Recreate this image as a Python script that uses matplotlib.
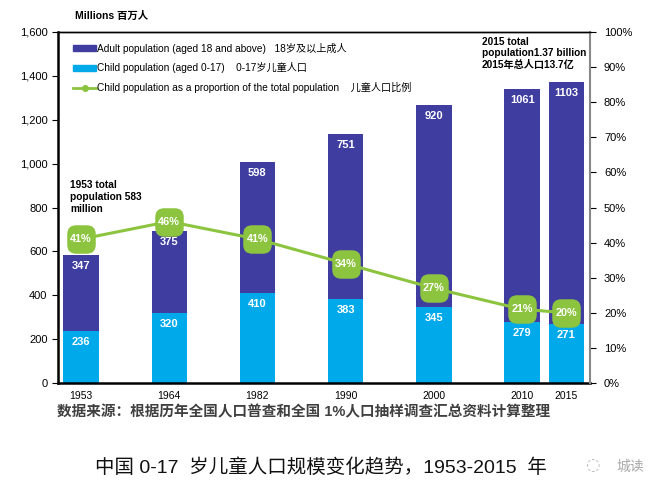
import matplotlib.pyplot as plt
import matplotlib.patches as mpatches
import matplotlib.lines as mlines
from matplotlib.ticker import FuncFormatter

plt.rcParams['font.family'] = ['Liberation Sans', 'Noto Sans CJK SC', 'DejaVu Sans']
plt.rcParams['axes.unicode_minus'] = False

# 数据
years = ['1953', '1964', '1982', '1990', '2000', '2010', '2015']
child_pop = [236, 320, 410, 383, 345, 279, 271]
adult_pop = [347, 375, 598, 751, 920, 1061, 1103]
child_share = [41, 46, 41, 34, 27, 21, 20]
xpos = [0, 1, 2, 3, 4, 5, 5.5]

adult_color = '#3f3da0'
child_color = '#00aaea'
green = '#8cc43f'

fig = plt.figure(figsize=(6.61, 4.96), dpi=100)
ax = fig.add_axes([0.0877, 0.2278, 0.805, 0.7077])

ax.bar(xpos, child_pop, width=0.4, color=child_color, zorder=2)
ax.bar(xpos, adult_pop, width=0.4, bottom=child_pop, color=adult_color, zorder=2)

# 柱内数值
for x, c, a in zip(xpos, child_pop, adult_pop):
    ax.text(x, c - 50, f'{c}', ha='center', va='center', color='white',
            fontsize=8, fontweight='bold', zorder=3)
    ax.text(x, c + a - 50, f'{a}', ha='center', va='center', color='white',
            fontsize=8, fontweight='bold', zorder=3)

ax.set_xlim(-0.26, 5.77)
ax.set_ylim(0, 1600)
ax.set_yticks(range(0, 1601, 200))
ax.yaxis.set_major_formatter(FuncFormatter(lambda v, p: f'{int(v):,}'))
ax.set_xticks(xpos)
ax.set_xticklabels(years)
ax.tick_params(axis='x', length=0, labelsize=7.5, pad=6)
ax.tick_params(axis='y', length=4, labelsize=8, direction='out')
for s in ['left', 'bottom']:
    ax.spines[s].set_linewidth(1.8)
ax.spines['top'].set_linewidth(1.0)
ax.spines['right'].set_visible(False)

# 圆角方块标记
rbox = mpatches.FancyBboxPatch((-0.5, -0.5), 1, 1,
                               boxstyle='round,pad=0,rounding_size=0.3').get_path()

# 右轴：儿童人口比例
ax2 = ax.twinx()
ax2.plot(xpos, child_share, color=green, linewidth=2.2, zorder=4)
ax2.plot(xpos, child_share, linestyle='none', marker=rbox, markersize=19.5,
         markerfacecolor=green, markeredgecolor=green, zorder=5)
for x, p in zip(xpos, child_share):
    ax2.text(x, p, f'{p}%', ha='center', va='center', color='white',
             fontsize=7.8, fontweight='bold', zorder=6)
ax2.set_ylim(0, 100)
ax2.set_yticks(range(0, 101, 10))
ax2.yaxis.set_major_formatter(FuncFormatter(lambda v, p: f'{int(v)}%'))
ax2.tick_params(axis='y', length=4, labelsize=8, direction='out', pad=6)
ax2.spines['right'].set_color('#888888')
ax2.spines['right'].set_linewidth(1.5)
ax2.spines['left'].set_visible(False)
ax2.spines['bottom'].set_visible(False)
ax2.spines['top'].set_linewidth(1.0)

# 图例
h1 = mpatches.Patch(color=adult_color)
h2 = mpatches.Patch(color=child_color)
h3 = mlines.Line2D([], [], color=green, linewidth=2, marker='o', markersize=4)
ax2.legend([h1, h2, h3],
           ['Adult population (aged 18 and above)   18岁及以上成人',
            'Child population (aged 0-17)    0-17岁儿童人口',
            'Child population as a proportion of the total population    儿童人口比例'],
           loc='upper left', bbox_to_anchor=(0.012, 0.995), frameon=False,
           fontsize=7.3, handlelength=2.2, handleheight=0.5, handletextpad=0.1,
           labelspacing=0.85, borderaxespad=0.5)

# 注释
ax.text(0.023, 0.578, '1953 total\npopulation 583\nmillion', transform=ax.transAxes,
        fontsize=7.3, fontweight='bold', va='top', ha='left', linespacing=1.25)
ax.text(0.797, 0.987, '2015 total\npopulation1.37 billion\n2015年总人口13.7亿',
        transform=ax.transAxes, fontsize=7.3, fontweight='bold', va='top', ha='left',
        linespacing=1.2)

fig.text(0.113, 0.968, 'Millions 百万人', fontsize=7.5, fontweight='bold', va='center')

fig.text(0.086, 0.169, '数据来源：根据历年全国人口普查和全国 1%人口抽样调查汇总资料计算整理',
         fontsize=10.5, color='#404040', fontweight='bold', va='center', ha='left')
fig.text(0.143, 0.058, '中国 0-17  岁儿童人口规模变化趋势，1953-2015  年',
         fontsize=14, color='#111111', va='center', ha='left')
fig.text(0.885, 0.062, '◌', fontsize=12, color='#bbbbbb', va='center', ha='left',
         family=['DejaVu Sans'])
fig.text(0.933, 0.058, '城读', fontsize=10, color='#aaaaaa', va='center', ha='left')

fig.savefig('out.png', dpi=100)
